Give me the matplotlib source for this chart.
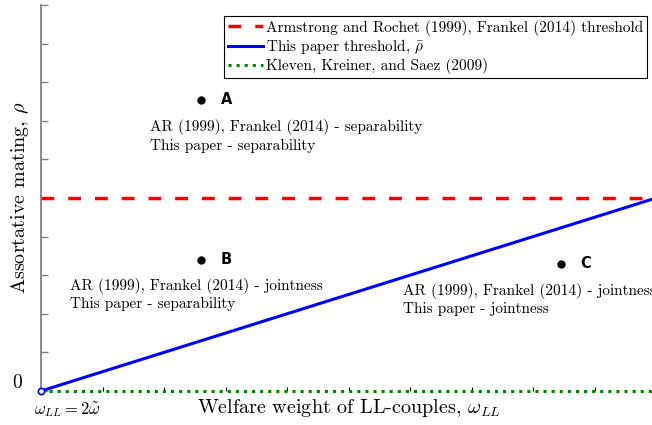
import numpy as np
import matplotlib
matplotlib.use('Agg')
import matplotlib.pyplot as plt

plt.rcParams['font.family'] = 'serif'
plt.rcParams['font.serif'] = ['cmr10']
plt.rcParams['mathtext.fontset'] = 'cm'
plt.rcParams['axes.unicode_minus'] = False
plt.rcParams['axes.formatter.use_mathtext'] = True

# data
omega = [0, 10]
rho_ar = [5, 5]          # Armstrong and Rochet / Frankel threshold
rho_bar = [0, 5]         # this paper threshold
rho_kks = [0, 0]         # Kleven, Kreiner and Saez
points = {'A': (2.6, 7.55), 'B': (2.6, 3.4), 'C': (8.45, 3.3)}
notes = [
    (1.78, 6.6, 'AR (1999), Frankel (2014) - separability\nThis paper - separability'),
    (0.47, 2.5, 'AR (1999), Frankel (2014) - jointness\nThis paper - separability'),
    (5.88, 2.37, 'AR (1999), Frankel (2014) - jointness\nThis paper - jointness'),
]

fig = plt.figure(figsize=(6.52, 4.25), dpi=100)
ax = fig.add_axes([41 / 652, 1 - 391 / 425, 615 / 652, 386 / 425])

ax.plot(omega, rho_ar, color='red', lw=2.5, dashes=(3.7, 4.0),
        label='Armstrong and Rochet (1999), Frankel (2014) threshold')
ax.plot(omega, rho_bar, color='blue', lw=2.2, label=r'This paper threshold, $\bar{\rho}$')
ax.plot(omega, rho_kks, color='green', lw=2.2, ls=':', label='Kleven, Kreiner, and Saez (2009)',
        clip_on=False, zorder=4)
ax.plot([0], [0], 'o', ms=4.5, mfc='white', mec='blue', mew=1.2, clip_on=False, zorder=5)

for name, (px, py) in points.items():
    ax.plot(px, py, 'o', color='black', ms=5)
    ax.text(px + 0.32, py, name, fontsize=10.5, fontweight='bold', family='DejaVu Sans',
            ha='left', va='center')
for tx, ty, s in notes:
    ax.text(tx, ty, s, fontsize=11, ha='left', va='center', linespacing=1.3)

ax.set_xlim(0, 10)
ax.set_ylim(0, 10)
ax.set_xticks(np.arange(0, 11))
ax.set_xticklabels([])
ax.set_yticks(np.arange(0, 11))
ax.set_yticklabels([])
ax.tick_params(axis='y', direction='in', length=5, width=1, color='grey')
ax.tick_params(axis='x', direction='in', length=3, width=0.8, color='black')
for side in ['top', 'right', 'bottom']:
    ax.spines[side].set_visible(False)
ax.spines['left'].set_color('grey')
ax.spines['left'].set_linewidth(1.3)

fig.text(17 / 652, 1 - 383 / 425, '0', fontsize=14, ha='center', va='center')
fig.text(67 / 652, 1 - 410 / 425, r'$\omega_{LL}=2\tilde{\omega}$',
         fontsize=12, ha='center', va='center')
fig.text(349 / 652, 1 - 408 / 425, r'Welfare weight of LL-couples, $\omega_{LL}$',
         fontsize=14.5, ha='center', va='center')
fig.text(20 / 652, 1 - 198 / 425, r'Assortative mating, $\rho$', fontsize=14.5,
         rotation=90, ha='center', va='center')

leg = ax.legend(loc='upper right', bbox_to_anchor=((647 - 41) / 615, (391 - 16) / 386),
                borderaxespad=0, fancybox=False, edgecolor='black', framealpha=1,
                fontsize=11, handlelength=2.3, handletextpad=0.2, borderpad=0.25,
                labelspacing=0.15)
leg.get_frame().set_linewidth(0.8)

fig.savefig('out.png', dpi=100)
